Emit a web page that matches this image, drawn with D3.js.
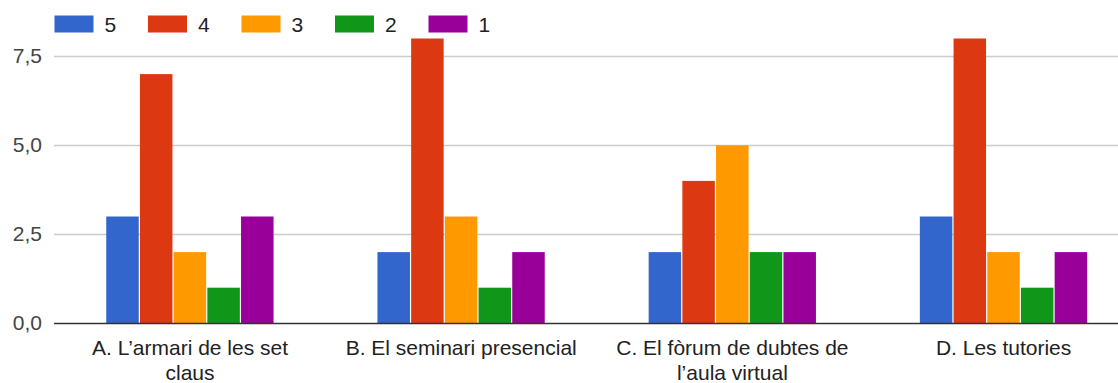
<!DOCTYPE html>
<html><head><meta charset="utf-8">
<script src="https://cdn.jsdelivr.net/npm/d3@7"></script>
<style>body{margin:0;background:#fff}svg{display:block;font-family:"Liberation Sans",Arial,sans-serif}</style>
</head><body><svg id="c" width="1118" height="383"></svg>
<script>
const categories = [["A. L’armari de les set","claus"],["B. El seminari presencial"],["C. El fòrum de dubtes de","l’aula virtual"],["D. Les tutories"]];
const seriesNames = ["5","4","3","2","1"];
const colors = ["#3366cc","#dc3912","#ff9900","#109618","#990099"];
const values = [
  [3,7,2,1,3],
  [2,8,3,1,2],
  [2,4,5,2,2],
  [3,8,2,1,2]
];
const yTicks = [0,2.5,5,7.5];

const svg = d3.select("#c");
const W = 1118;
const x0 = d3.scaleBand().domain(d3.range(categories.length)).range([54.4,1139.2]).paddingInner(0).paddingOuter(0);
const groupW = 168.5;
const x1 = d3.scaleBand().domain(d3.range(seriesNames.length)).range([0,groupW]).padding(0);
const y = d3.scaleLinear().domain([0,7.5]).range([323.3,56.3]);

// gridlines
svg.append("g").selectAll("line").data(yTicks.slice(1)).join("line")
  .attr("x1",54).attr("x2",W).attr("y1",d=>Math.round(y(d))+0.5).attr("y2",d=>Math.round(y(d))+0.5)
  .attr("stroke","#cccccc").attr("stroke-width",1.5);

// y axis labels
const fmt = d=>d3.format(".1f")(d).replace(".",",");
svg.append("g").selectAll("text").data(yTicks).join("text")
  .attr("x",42).attr("y",d=>y(d)+7).attr("text-anchor","end")
  .attr("font-size",21).attr("fill","#444").text(fmt);

// bars
const g = svg.append("g").selectAll("g").data(values).join("g")
  .attr("transform",(d,i)=>`translate(${x0(i)+x0.bandwidth()/2-groupW/2},0)`);
g.selectAll("rect").data(d=>d).join("rect")
  .attr("x",(d,j)=>x1(j)+0.5).attr("width",x1.bandwidth()-1.2)
  .attr("y",d=>y(d)).attr("height",d=>y(0)-y(d))
  .attr("fill",(d,j)=>colors[j]);

// baseline
svg.append("line").attr("x1",54).attr("x2",W).attr("y1",323.5).attr("y2",323.5).attr("stroke","#333").attr("stroke-width",1.5);

// x labels
svg.append("g").selectAll("text").data(categories).join("text")
  .attr("x",(d,i)=>x0(i)+x0.bandwidth()/2).attr("y",355)
  .attr("text-anchor","middle").attr("font-size",21).attr("fill","#222")
  .each(function(d){
    const t=d3.select(this);
    d.forEach((line,k)=>t.append("tspan").attr("x",t.attr("x")).attr("dy",k?25:0).text(line));
  });

// legend
const legX = [54.5,148,241.5,335,428.5];
const lg = svg.append("g").selectAll("g").data(seriesNames).join("g")
  .attr("transform",(d,i)=>`translate(${legX[i]},0)`);
lg.append("rect").attr("x",0).attr("y",15.5).attr("width",39).attr("height",17).attr("fill",(d,i)=>colors[i]);
lg.append("text").attr("x",50).attr("y",31.5).attr("font-size",21).attr("fill","#222").text(d=>d);
</script></body></html>
